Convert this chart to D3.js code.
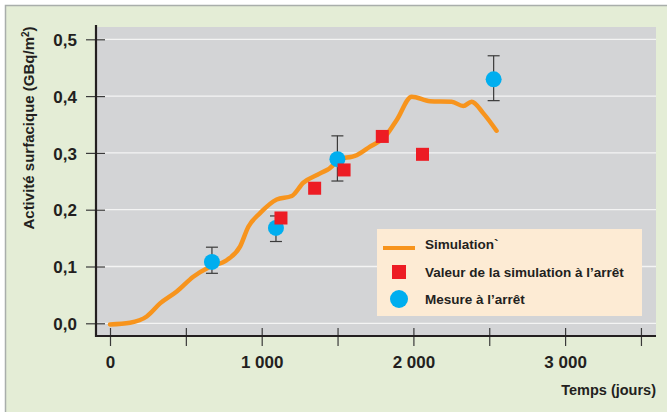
<!DOCTYPE html>
<html><head><meta charset="utf-8">
<script src="https://cdn.jsdelivr.net/npm/d3@7"></script>
<style>body{margin:0;background:#fff}svg{display:block;font-family:"Liberation Sans",Arial,sans-serif}</style>
</head><body><svg id="c" width="667" height="412"></svg>
<script>
const simDays = [0,132,242,330,440,549,659,769,857,912,989,1099,1198,1274,1385,1472,1494,1626,1714,1813,1890,1989,2109,2252,2329,2384,2460,2548];
const simValues = [-0.002,0.001,0.012,0.035,0.056,0.082,0.0997,0.111,0.135,0.170,0.194,0.218,0.224,0.2475,0.264,0.279,0.2875,0.296,0.311,0.3286,0.358,0.399,0.391,0.390,0.3826,0.390,0.370,0.339];
const stopSimDays = [1127,1349,1543,1795,2060];
const stopSimValues = [0.1854,0.2378,0.270,0.329,0.2975];
const measDays = [672,1094,1499,2529];
const measValues = [0.108,0.168,0.289,0.4296];
const measLow = [0.088,0.144,0.2505,0.392];
const measHigh = [0.134,0.189,0.330,0.471];
const yTicks = [0,0.1,0.2,0.3,0.4,0.5];
const xTicks = [0,500,1000,1500,2000,2500,3000,3500];
const xLabels = {0:"0",1000:"1 000",2000:"2 000",3000:"3 000"};
const legendLabels = ["Simulation`","Valeur de la simulation à l’arrêt","Mesure à l’arrêt"];

const svg = d3.select("#c");
const ink = "#231f20";
// outer frame
svg.append("rect").attr("x",0).attr("y",0).attr("width",667).attr("height",412).attr("fill","#ffffff");
svg.append("rect").attr("x",5.5).attr("y",5.5).attr("width",670).attr("height",420)
  .attr("fill","#e4edd6").attr("stroke","#a9aeab").attr("stroke-width",1.5);

const x = d3.scaleLinear().domain([0,1000]).range([110,261.7]);
const y = d3.scaleLinear().domain([0,0.5]).range([323.3,39.3]);

// plot background
svg.append("rect").attr("x",96).attr("y",27).attr("width",656-96).attr("height",336-27).attr("fill","#d3d4d6");
// gridlines
svg.append("g").selectAll("line").data(yTicks).join("line")
  .attr("x1",96).attr("x2",656).attr("y1",d=>y(d)).attr("y2",d=>y(d))
  .attr("stroke","#f4f4f4").attr("stroke-width",1.3);

// y axis
const yAxis = d3.axisLeft(y).tickValues(yTicks).tickSize(19).tickPadding(0).tickFormat(d=>d3.format(".1f")(d).replace(".",","));
const gy = svg.append("g").attr("transform","translate(105,0)").call(yAxis);
gy.select(".domain").remove();
gy.selectAll(".tick line").attr("stroke","#3a3a3a").attr("stroke-width",1.2);
gy.selectAll(".tick text").attr("x",-28).attr("dy","0.36em").attr("font-size",17).attr("font-weight","bold").attr("fill",ink).attr("font-family","Liberation Sans, Arial, sans-serif");

// x axis
const xAxis = d3.axisBottom(x).tickValues(xTicks).tickSize(18).tickPadding(0).tickFormat(d=>xLabels[d]||"");
const gx = svg.append("g").attr("transform","translate(0,328)").call(xAxis);
gx.select(".domain").remove();
gx.selectAll(".tick line").attr("stroke","#3a3a3a").attr("stroke-width",1.2);
gx.selectAll(".tick text").attr("y",28).attr("dy","0.71em").attr("font-size",17).attr("font-weight","bold").attr("fill",ink).attr("font-family","Liberation Sans, Arial, sans-serif");

// axis lines
svg.append("line").attr("x1",96).attr("x2",96).attr("y1",25).attr("y2",337).attr("stroke",ink).attr("stroke-width",2.2);
svg.append("line").attr("x1",95).attr("x2",656).attr("y1",336).attr("y2",336).attr("stroke",ink).attr("stroke-width",2.2);

// axis titles
svg.append("text").attr("x",656).attr("y",395).attr("text-anchor","end").attr("font-size",14.5).attr("font-weight","bold").attr("fill",ink).text("Temps (jours)");
svg.append("text").attr("transform","translate(34,128) rotate(-90)").attr("text-anchor","middle").attr("font-size",15).attr("font-weight","bold").attr("fill",ink)
  .html('Activité surfacique (GBq/m<tspan dy="-5" font-size="10">2</tspan><tspan dy="5">)</tspan>');

// simulation line
const sim = simDays.map((d,i)=>[d,simValues[i]]);
svg.append("path").datum(sim).attr("fill","none").attr("stroke","#f7941d").attr("stroke-width",4.5).attr("stroke-linejoin","round").attr("stroke-linecap","round")
  .attr("d",d3.line().x(d=>x(d[0])).y(d=>y(d[1])).curve(d3.curveMonotoneX));

// error bars
const eb = svg.append("g").attr("stroke","#3a3a3a").attr("stroke-width",1.2);
measDays.forEach((d,i)=>{
  eb.append("line").attr("x1",x(d)).attr("x2",x(d)).attr("y1",y(measHigh[i])).attr("y2",y(measLow[i]));
  eb.append("line").attr("x1",x(d)-6).attr("x2",x(d)+6).attr("y1",y(measHigh[i])).attr("y2",y(measHigh[i]));
  eb.append("line").attr("x1",x(d)-6).attr("x2",x(d)+6).attr("y1",y(measLow[i])).attr("y2",y(measLow[i]));
});
// measurement circles
svg.append("g").selectAll("circle").data(measDays).join("circle")
  .attr("cx",d=>x(d)).attr("cy",(d,i)=>y(measValues[i])).attr("r",8).attr("fill","#00aeef");
// stop-simulation squares
svg.append("g").selectAll("rect").data(stopSimDays).join("rect")
  .attr("x",d=>x(d)-6.5).attr("y",(d,i)=>y(stopSimValues[i])-6.5).attr("width",13).attr("height",13).attr("fill","#ed1c24");

// legend
const lg = svg.append("g");
lg.append("rect").attr("x",377).attr("y",229).attr("width",265).attr("height",87).attr("fill","#fdebd4");
lg.append("line").attr("x1",383).attr("x2",415).attr("y1",248).attr("y2",248).attr("stroke","#f7941d").attr("stroke-width",4);
lg.append("rect").attr("x",392).attr("y",265).attr("width",14).attr("height",14).attr("fill","#ed1c24");
lg.append("circle").attr("cx",399).attr("cy",299).attr("r",9).attr("fill","#00aeef");
lg.selectAll("text").data(legendLabels).join("text")
  .attr("x",425).attr("y",(d,i)=>[244,272,299][i]).attr("dy","0.36em").attr("font-size",13.5).attr("font-weight","bold").attr("fill",ink).text(d=>d);
</script></body></html>
